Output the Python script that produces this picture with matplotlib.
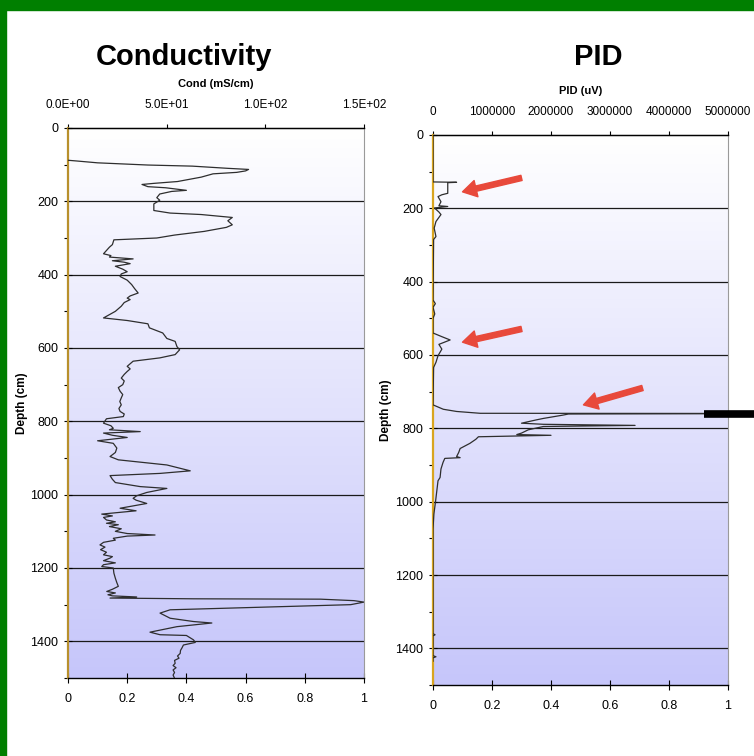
import numpy as np
import matplotlib.pyplot as plt
from matplotlib.patches import Rectangle
from matplotlib.colors import LinearSegmentedColormap
from matplotlib.ticker import FixedLocator, MultipleLocator, FuncFormatter

plt.rcParams['font.family'] = ['Liberation Sans', 'DejaVu Sans']

# conductivity log (normalised 0-1, top axis in mS/cm)
cond_depth = [88, 90, 95, 101, 104, 110, 113, 117, 121, 125, 134, 146, 151, 154,
              160, 163, 170, 173, 180, 190, 197, 207, 225, 232, 236, 244, 253,
              264, 271, 282, 292, 300, 305, 318, 325, 334, 343, 348, 352, 357,
              362, 366, 370, 377, 385, 392, 398, 405, 415, 427, 438, 450, 458,
              464, 468, 476, 486, 500, 518, 525, 534, 545, 559, 574, 582, 596,
              605, 618, 627, 636, 650, 657, 664, 672, 682, 690, 700, 708, 718,
              727, 736, 746, 755, 765, 773, 780, 787, 793, 805, 812, 819, 823,
              828, 832, 838, 844, 853, 860, 873, 885, 896, 905, 919, 935, 942,
              948, 958, 967, 978, 983, 994, 1003, 1010, 1015, 1024, 1037, 1044,
              1053, 1058, 1062, 1069, 1074, 1078, 1082, 1087, 1093, 1100, 1106,
              1110, 1113, 1119, 1124, 1130, 1137, 1143, 1150, 1157, 1164, 1169,
              1173, 1180, 1186, 1191, 1196, 1200, 1214, 1228, 1240, 1250, 1258,
              1264, 1268, 1273, 1276, 1279, 1282, 1284, 1285, 1289, 1293, 1300,
              1307, 1314, 1323, 1337, 1346, 1350, 1360, 1375, 1382, 1384, 1396,
              1403, 1410, 1418, 1425, 1433, 1440, 1446, 1452, 1460, 1466, 1472,
              1478, 1485, 1492, 1499]
cond_value = [0.00, 0.03, 0.10, 0.27, 0.42, 0.54, 0.61, 0.60, 0.57, 0.49, 0.45,
              0.37, 0.29, 0.25, 0.27, 0.33, 0.40, 0.35, 0.31, 0.30, 0.31, 0.29,
              0.29, 0.345, 0.45, 0.555, 0.54, 0.555, 0.535, 0.46, 0.36, 0.30,
              0.155, 0.15, 0.14, 0.13, 0.12, 0.145, 0.14, 0.22, 0.15, 0.19, 0.21,
              0.16, 0.185, 0.20, 0.18, 0.176, 0.20, 0.215, 0.225, 0.237, 0.21,
              0.20, 0.21, 0.19, 0.18, 0.16, 0.12, 0.20, 0.27, 0.275, 0.32, 0.334,
              0.362, 0.368, 0.377, 0.362, 0.31, 0.22, 0.20, 0.21, 0.20, 0.19,
              0.18, 0.19, 0.185, 0.17, 0.176, 0.185, 0.18, 0.175, 0.18, 0.172,
              0.176, 0.19, 0.187, 0.13, 0.12, 0.145, 0.153, 0.14, 0.244, 0.12,
              0.15, 0.20, 0.10, 0.153, 0.165, 0.16, 0.142, 0.17, 0.334, 0.413,
              0.311, 0.142, 0.15, 0.16, 0.244, 0.334, 0.266, 0.232, 0.22, 0.23,
              0.266, 0.176, 0.23, 0.114, 0.15, 0.12, 0.13, 0.16, 0.13, 0.17,
              0.14, 0.18, 0.16, 0.20, 0.294, 0.20, 0.153, 0.16, 0.12, 0.108,
              0.125, 0.11, 0.13, 0.12, 0.15, 0.142, 0.12, 0.16, 0.12, 0.114,
              0.153, 0.155, 0.16, 0.165, 0.17, 0.15, 0.131, 0.16, 0.135, 0.15,
              0.232, 0.142, 0.424, 0.853, 0.966, 1.0, 0.955, 0.65, 0.345, 0.311,
              0.345, 0.424, 0.486, 0.368, 0.277, 0.311, 0.40, 0.424, 0.43, 0.39,
              0.385, 0.38, 0.379, 0.37, 0.375, 0.36, 0.362, 0.355, 0.365, 0.355,
              0.36, 0.355, 0.359]

# PID log (normalised 0-1, top axis in uV)
pid_depth = [0, 128, 129, 130, 159, 163, 168, 182, 193, 195, 199, 210, 217, 236,
             254, 277, 285, 450, 460, 470, 488, 500, 540, 550, 559, 571, 584,
             602, 620, 634, 736, 748, 754, 759, 759.5, 761, 764, 773, 777, 786,
             789, 792, 795, 804, 813, 817, 819, 823, 830, 841, 855, 866, 877,
             880, 882, 893, 911, 934, 943, 970, 997, 1034, 1075, 1360, 1363,
             1366, 1420, 1423, 1426, 1435]
pid_value = [0.0, 0.0, 0.08, 0.05, 0.05, 0.03, 0.017, 0.027, 0.02, 0.05, 0.005,
             0.02, 0.027, 0.01, 0.004, 0.01, 0.002, 0.0, 0.008, 0.0, 0.006, 0.0,
             0.0, 0.03, 0.058, 0.02, 0.03, 0.017, 0.01, 0.002, 0.0, 0.035, 0.08,
             0.16, 1.2, 0.459, 0.44, 0.374, 0.35, 0.30, 0.374, 0.685, 0.374,
             0.323, 0.30, 0.284, 0.40, 0.154, 0.145, 0.125, 0.092, 0.087, 0.08,
             0.092, 0.04, 0.034, 0.027, 0.024, 0.017, 0.013, 0.009, 0.003, 0.0,
             0.0, 0.007, 0.0, 0.0, 0.01, 0.0, 0.0]

depth_ticks = [0, 200, 400, 600, 800, 1000, 1200, 1400]
frac_ticks = [0, 0.2, 0.4, 0.6, 0.8, 1.0]
cond_top_ticks = [0, 50, 100, 150]
pid_top_ticks = [0, 1000000, 2000000, 3000000, 4000000, 5000000]

# red arrows on the PID panel: (tail value, tail depth, head value, head depth)
pid_arrows = [(0.30, 117, 0.10, 155),
              (0.30, 529, 0.10, 565),
              (0.71, 690, 0.51, 736)]
# black marker bar at the big PID spike: (start, end, depth)
marker_bar = (0.92, 1.09, 760)

bg = LinearSegmentedColormap.from_list('bg', ['#ffffff', '#c6c6fa'])


def setup_panel(ax, spine_color, top_scale, top_ticks, top_fmt, top_label):
    ax.imshow(np.linspace(0, 1, 256).reshape(-1, 1), cmap=bg,
              extent=[0, 1, 1500, 0], aspect='auto', zorder=0)
    ax.set_xlim(0, 1)
    ax.set_ylim(1500, 0)
    for d in depth_ticks[1:]:
        ax.axhline(d, color='#1a1a1a', lw=0.9, zorder=1)

    ax.yaxis.set_major_locator(FixedLocator(depth_ticks))
    ax.yaxis.set_minor_locator(MultipleLocator(100))
    ax.xaxis.set_major_locator(FixedLocator(frac_ticks))
    ax.xaxis.set_major_formatter(FuncFormatter(lambda v, p: f"{v:g}"))
    ax.tick_params(axis='y', which='major', direction='inout', length=6,
                   width=0.8, labelsize=9, pad=4)
    ax.tick_params(axis='y', which='minor', direction='out', length=3, width=0.8)
    ax.tick_params(axis='x', direction='inout', length=7, width=0.8,
                   labelsize=9, pad=7)
    ax.set_ylabel('Depth (cm)', fontsize=8.5, fontweight='bold', labelpad=2)

    ax.spines['left'].set_color(spine_color)
    ax.spines['left'].set_linewidth(1.6)
    ax.spines['right'].set_color('#9a9a9a')
    ax.spines['bottom'].set_linewidth(1.0)
    ax.spines['top'].set_linewidth(1.0)

    sec = ax.secondary_xaxis('top', functions=(lambda v: v * top_scale,
                                               lambda c: c / top_scale))
    sec.xaxis.set_major_locator(FixedLocator(top_ticks))
    sec.xaxis.set_major_formatter(FuncFormatter(top_fmt))
    sec.tick_params(direction='out', length=3, width=0.8, labelsize=8.5, pad=9)
    sec.set_xlabel(top_label, fontsize=8, fontweight='bold', labelpad=9)
    return sec


fig = plt.figure(figsize=(7.54, 7.56), dpi=100)

ax1 = fig.add_axes([68 / 754, 1 - 678 / 756, 296 / 754, 550 / 756])
setup_panel(ax1, '#b8902c', 150, cond_top_ticks,
            lambda v, p: f"{v:.1E}", 'Cond (mS/cm)')
ax1.plot(cond_value, cond_depth, color='#2e2e2e', lw=0.9, zorder=3)

ax2 = fig.add_axes([433 / 754, 1 - 685 / 756, 295 / 754, 550 / 756])
setup_panel(ax2, '#d9a520', 5000000, pid_top_ticks,
            lambda v, p: f"{v:.0f}", 'PID (uV)')
ax2.plot(pid_value, pid_depth, color='#2e2e2e', lw=0.9, zorder=3)

for tx, ty, hx, hy in pid_arrows:
    ax2.annotate('', xy=(hx, hy), xytext=(tx, ty),
                 arrowprops=dict(arrowstyle='simple,head_width=1.2,head_length=1.0,tail_width=0.38',
                                 color='#e8493b', mutation_scale=10,
                                 shrinkA=0, shrinkB=0), zorder=6)

ax2.plot(marker_bar[:2], [marker_bar[2], marker_bar[2]], color='black', lw=5.5,
         solid_capstyle='butt', clip_on=False, zorder=6)

fig.text(184 / 754, 1 - 57 / 756, 'Conductivity', fontsize=21, fontweight='bold',
         ha='center', va='center')
fig.text(598 / 754, 1 - 57 / 756, 'PID', fontsize=21, fontweight='bold',
         ha='center', va='center')

# green frame
fig.add_artist(Rectangle((0, 1 - 10 / 756), 1, 10 / 756, transform=fig.transFigure,
                         color='#007f00', zorder=10))
fig.add_artist(Rectangle((0, 0), 6 / 754, 1, transform=fig.transFigure,
                         color='#007f00', zorder=10))

fig.savefig('out.png', dpi=100)
